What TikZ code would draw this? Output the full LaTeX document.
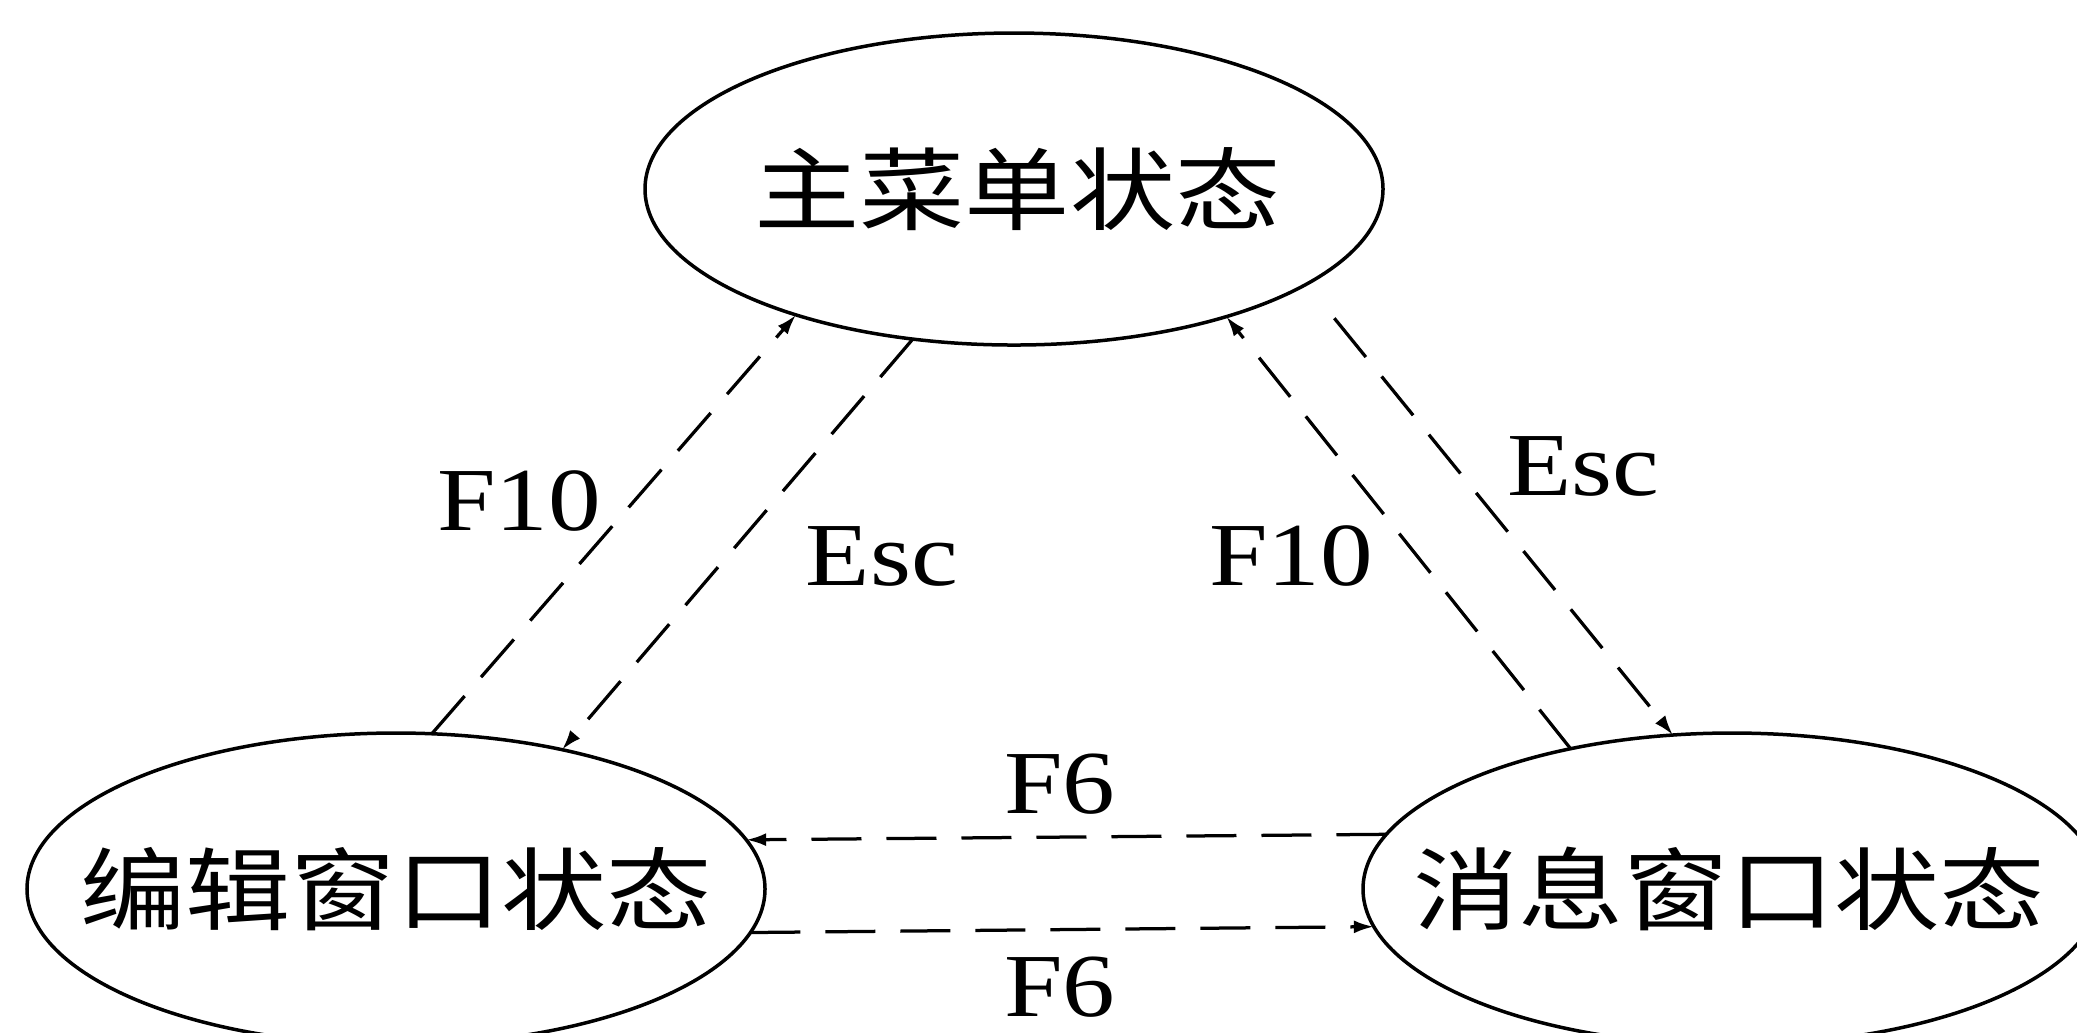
\documentclass[tikz,border=0pt]{standalone}
\usepackage{fontspec}
\setmainfont{Liberation Serif}[FakeStretch=1.17]
\newfontfamily\cjk{Noto Sans CJK SC}[FakeStretch=1.17]
\usetikzlibrary{shapes.geometric,arrows.meta}
\begin{document}
\begin{tikzpicture}[x=0.2pt,y=-0.2pt,
  state/.style={ellipse, draw, line width=0.7pt, inner sep=0pt, outer sep=0pt,
    minimum width=147.6pt, minimum height=62.4pt,
    font=\cjk\fontsize{18pt}{20pt}\selectfont},
  conn/.style={line width=0.65pt, dash pattern=on 10pt off 5pt,
    -{Latex[length=4pt,width=2.6pt]}},
  lbl/.style={inner sep=0pt, font=\fontsize{18pt}{20pt}\selectfont}]
\useasboundingbox (0,0) rectangle (2077,1032);
\node[state] (T) at (1014,189) {\makebox[0pt]{\hspace{1.4pt}主菜单状态}};
\node[state] (L) at (396,889) {\makebox[0pt]{编辑窗口状态}};
\node[state] (R) at (1732,889) {\makebox[0pt]{消息窗口状态\hspace{1.2pt}}};
\draw[conn] (L.77.4) -- (T.210.7);
\draw[conn] (T.236.2) -- (L.40.3);
\draw[conn] (R.139) -- (T.329.1);
\draw[conn, shorten <=8.8pt] (T.342.9) -- (R.111.4);
\draw[conn] (R.171.8) -- (L.8.2);
\draw[conn] (L.353.8) -- (R.186.2);
\node[lbl] (lf10) at (519,501) {F10};
\node[lbl] (lescl) at (882,556) {Esc};
\node[lbl] (rf10) at (1291,556) {F10};
\node[lbl] (rescr) at (1583,466) {Esc};
\node[lbl] (f6top) at (1060,784) {F6};
\node[lbl] (f6bot) at (1060,987) {F6};
\end{tikzpicture}
\end{document}
